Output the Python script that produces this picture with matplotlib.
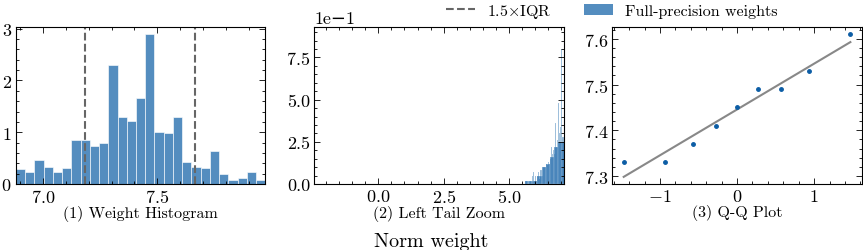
import numpy as np
import matplotlib.pyplot as plt
from matplotlib.patches import Patch
from matplotlib.lines import Line2D
from matplotlib.ticker import AutoMinorLocator

plt.rcParams['font.family'] = ['cmr10', 'DejaVu Serif']
plt.rcParams['mathtext.fontset'] = 'cm'
plt.rcParams['axes.formatter.use_mathtext'] = True
plt.rcParams['axes.unicode_minus'] = True

# (1) histogram: density per bin
hist_lo, hist_w = 6.883, 0.0403
hist_density = [0.28, 0.24, 0.47, 0.33, 0.24, 0.30, 0.85, 0.85, 0.73, 0.79,
                2.29, 1.30, 1.21, 1.67, 2.89, 1.01, 0.99, 1.30, 0.42, 0.33,
                0.30, 0.64, 0.19, 0.08, 0.11, 0.24, 0.08]
iqr_fences = [7.186, 7.665]

# (2) left tail zoom: fine and coarse bins
tail_lo = 5.60
tail_fine_w = 0.04
tail_fine = [0.02, 0.02, 0.0, 0.0, 0.02, 0.02, 0.0, 0.05, 0.07, 0.02,
             0.05, 0.02, 0.05, 0.07, 0.03, 0.08, 0.05, 0.10, 0.10, 0.10,
             0.12, 0.11, 0.13, 0.12, 0.15, 0.22, 0.18, 0.20, 0.18, 0.36,
             0.22, 0.26, 0.48, 0.30, 0.34, 0.80, 0.28]
tail_coarse_w = 0.16
tail_coarse = [0.018, 0.018, 0.02, 0.048, 0.10, 0.12, 0.16, 0.22, 0.25, 0.25]

# (3) Q-Q plot
qq_theory = [-1.47, -0.935, -0.575, -0.277, 0.0, 0.277, 0.575, 0.935, 1.47]
qq_sample = [7.33, 7.33, 7.37, 7.41, 7.45, 7.49, 7.49, 7.53, 7.61]

blue = '#0C5DA5'
fence_col = '#666666'

fig, axes = plt.subplots(1, 3, figsize=(8.63, 2.51), dpi=100)
fig.subplots_adjust(left=0.0185, right=0.9985, top=0.888, bottom=0.263, wspace=0.196)

for ax in axes:
    ax.tick_params(which='both', direction='in', top=True, right=True, labelsize=13, width=0.6)
    ax.tick_params(which='major', length=4, pad=3)
    ax.tick_params(which='minor', length=2)
    ax.xaxis.set_minor_locator(AutoMinorLocator())
    ax.yaxis.set_minor_locator(AutoMinorLocator())
    for s in ax.spines.values():
        s.set_linewidth(0.8)

# panel 1
ax = axes[0]
left = hist_lo + hist_w * np.arange(len(hist_density))
ax.bar(left, hist_density, width=hist_w, align='edge', color=blue, alpha=0.7,
       edgecolor='white', linewidth=0.6)
for f in iqr_fences:
    ax.axvline(f, color=fence_col, ls='--', lw=1.5)
ax.set_xlim(hist_lo, hist_lo + hist_w * len(hist_density))
ax.set_ylim(0, 3.03)
ax.set_xticks([7.0, 7.5])
ax.set_yticks([0, 1, 2, 3])
ax.set_xlabel('(1) Weight Histogram', fontsize=11.5, labelpad=0)

# panel 2
ax = axes[1]
fl = tail_lo + tail_fine_w * np.arange(len(tail_fine))
cl = tail_lo + tail_coarse_w * np.arange(len(tail_coarse))
ax.bar(fl, tail_fine, width=tail_fine_w, align='edge', color=blue, alpha=0.45,
       edgecolor='white', linewidth=0.2)
ax.bar(cl, tail_coarse, width=tail_coarse_w, align='edge', color=blue, alpha=0.6,
       edgecolor='white', linewidth=0.2)
ax.set_xlim(-2.45, 7.08)
ax.set_ylim(0, 0.93)
ax.set_xticks([0.0, 2.5, 5.0])
ax.set_yticks([0, 0.25, 0.5, 0.75])
ax.ticklabel_format(axis='y', style='sci', scilimits=(0, 0), useMathText=False)
ax.yaxis.get_offset_text().set_fontsize(13)
ax.set_xlabel('(2) Left Tail Zoom', fontsize=11.5, labelpad=0)

# panel 3
ax = axes[2]
slope, icpt = np.polyfit(qq_theory, qq_sample, 1)
xs = np.array([qq_theory[0], qq_theory[-1]])
ax.plot(xs, slope * xs + icpt, color='#888888', lw=1.5)
ax.plot(qq_theory, qq_sample, 'o', color=blue, ms=2.5)
ax.set_xticks([-1, 0, 1])
ax.set_yticks([7.3, 7.4, 7.5, 7.6])
ax.set_xlabel('(3) Q-Q Plot', fontsize=11.5, labelpad=0)

handles = [Line2D([], [], color=fence_col, ls='--', lw=1.5),
           Patch(facecolor=blue, alpha=0.7)]
fig.legend(handles, [r'1.5$\times$IQR', 'Full-precision weights'], loc='upper center',
           bbox_to_anchor=(0.709, 1.045), ncol=2, frameon=False, fontsize=11.5,
           handlelength=1.8, columnspacing=2.0)

fig.supxlabel('Norm weight', fontsize=14.5, y=0.0)

fig.savefig('out.png', dpi=100)
